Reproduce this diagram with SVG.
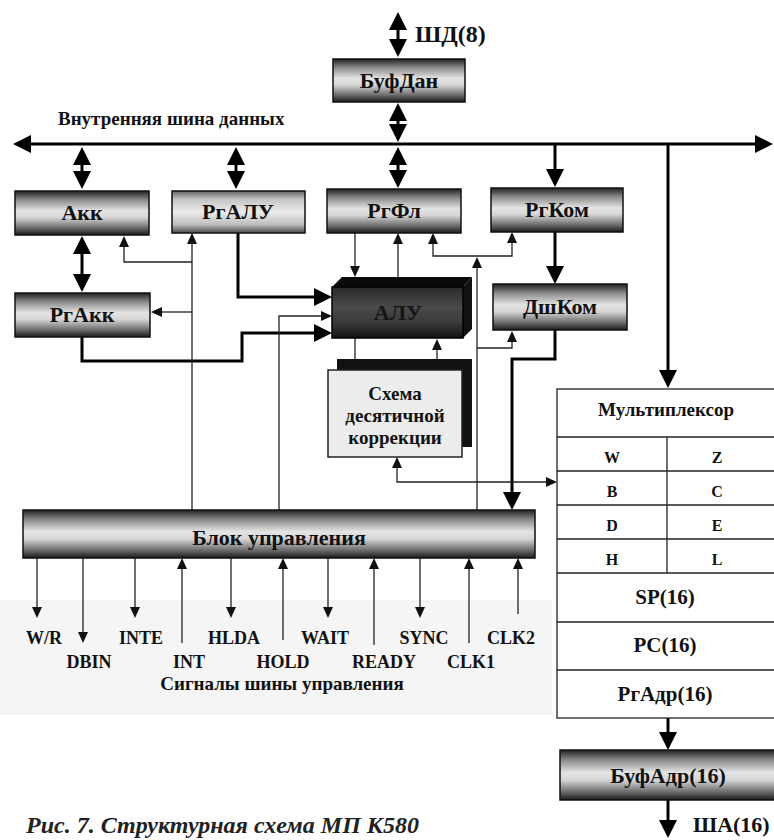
<svg xmlns="http://www.w3.org/2000/svg" width="774" height="840" viewBox="0 0 774 840">
<style>
.thick{stroke:#000;stroke-width:3;fill:none}
.thin{stroke:#222;stroke-width:1.3;fill:none}
.box{stroke:#111;stroke-width:1.5}
.lbl{font-family:"Liberation Serif","DejaVu Serif",serif;font-weight:bold;fill:#111;text-anchor:middle}
.sig{font-family:"Liberation Serif","DejaVu Serif",serif;font-weight:bold;fill:#111;font-size:18px;text-anchor:middle}
.cell{stroke:#222;stroke-width:1.3;fill:none}
</style>
<defs>
<linearGradient id="chrome" x1="0" y1="0" x2="0" y2="1">
<stop offset="0" stop-color="#222"/>
<stop offset="0.2" stop-color="#8a8a8a"/>
<stop offset="0.45" stop-color="#e4e4e4"/>
<stop offset="0.6" stop-color="#d6d6d6"/>
<stop offset="0.85" stop-color="#666"/>
<stop offset="1" stop-color="#1a1a1a"/>
</linearGradient>
<linearGradient id="light" x1="0" y1="0" x2="0" y2="1">
<stop offset="0" stop-color="#666"/>
<stop offset="0.2" stop-color="#c4c4c4"/>
<stop offset="0.5" stop-color="#ececec"/>
<stop offset="0.8" stop-color="#bdbdbd"/>
<stop offset="1" stop-color="#4a4a4a"/>
</linearGradient>
<linearGradient id="dark" x1="0" y1="0" x2="0" y2="1">
<stop offset="0" stop-color="#2a2a2a"/>
<stop offset="0.4" stop-color="#4a4a4a"/>
<stop offset="0.7" stop-color="#3a3a3a"/>
<stop offset="1" stop-color="#111"/>
</linearGradient>
<path id="hd" d="M0,0 L-9,-18 L9,-18 Z" fill="#000"/>
<path id="td" d="M0,0 L-5,-11 L5,-11 Z" fill="#111"/>
</defs>
<rect x="0" y="0" width="774" height="840" fill="#fff"/>
<rect x="0" y="600" width="552" height="115" fill="#f5f5f5"/>

<g id="connectors">
<line class="thick" x1="398" y1="25" x2="398" y2="45"/>
<use href="#hd" transform="translate(398,12) rotate(180)"/>
<use href="#hd" transform="translate(398,57)"/>
<line class="thick" x1="398" y1="115" x2="398" y2="130"/>
<use href="#hd" transform="translate(398,103) rotate(180)"/>
<use href="#hd" transform="translate(398,142)"/>
<line class="thick" x1="30" y1="144" x2="756" y2="144"/>
<use href="#hd" transform="translate(13,144) rotate(90)"/>
<use href="#hd" transform="translate(773,144) rotate(-90)"/>
<line class="thick" x1="82" y1="160" x2="82" y2="175"/>
<use href="#hd" transform="translate(82,147) rotate(180)"/>
<use href="#hd" transform="translate(82,189)"/>
<line class="thick" x1="236" y1="160" x2="236" y2="175"/>
<use href="#hd" transform="translate(236,147) rotate(180)"/>
<use href="#hd" transform="translate(236,189)"/>
<line class="thick" x1="398" y1="160" x2="398" y2="175"/>
<use href="#hd" transform="translate(398,147) rotate(180)"/>
<use href="#hd" transform="translate(398,188)"/>
<line class="thick" x1="555" y1="144" x2="555" y2="172"/>
<use href="#hd" transform="translate(555,187)"/>
<line class="thick" x1="668" y1="144" x2="668" y2="372"/>
<use href="#hd" transform="translate(668,388)"/>
<line class="thick" x1="82" y1="250" x2="82" y2="278"/>
<use href="#hd" transform="translate(82,236) rotate(180)"/>
<use href="#hd" transform="translate(82,292)"/>
<path class="thick" d="M238,233 V297 H316"/>
<use href="#hd" transform="translate(332,297) rotate(-90)"/>
<path class="thick" d="M82,337 V361 H242 V333 H316"/>
<use href="#hd" transform="translate(332,333) rotate(-90)"/>
<path class="thin" d="M279,510 V316 H322"/>
<use href="#td" transform="translate(332,316) rotate(-90)"/>
<path class="thin" d="M192,510 V243"/>
<use href="#td" transform="translate(192,233) rotate(180)"/>
<path class="thin" d="M192,262 H124 V246"/>
<use href="#td" transform="translate(124,236) rotate(180)"/>
<path class="thin" d="M192,312 H162"/>
<use href="#td" transform="translate(151,312) rotate(90)"/>
<line class="thin" x1="355" y1="233" x2="355" y2="267"/>
<use href="#td" transform="translate(355,277)"/>
<line class="thin" x1="398" y1="277" x2="398" y2="243"/>
<use href="#td" transform="translate(398,233) rotate(180)"/>
<path class="thin" d="M433,243 V256 H512 V243"/>
<use href="#td" transform="translate(433,233) rotate(180)"/>
<use href="#td" transform="translate(512,232) rotate(180)"/>
<line class="thin" x1="477" y1="510" x2="477" y2="268"/>
<use href="#td" transform="translate(477,257) rotate(180)"/>
<path class="thin" d="M477,348 H512 V341"/>
<use href="#td" transform="translate(512,331) rotate(180)"/>
<line class="thick" x1="555" y1="232" x2="555" y2="267"/>
<use href="#hd" transform="translate(555,284)"/>
<path class="thick" d="M555,330 V359 H512 V494"/>
<use href="#hd" transform="translate(512,510)"/>
<line class="thin" x1="355" y1="338" x2="355" y2="359"/>
<line class="thin" x1="437" y1="359" x2="437" y2="349"/>
<use href="#td" transform="translate(437,339) rotate(180)"/>
<path class="thin" d="M397,467 V482 H547"/>
<use href="#td" transform="translate(397,457) rotate(180)"/>
<use href="#td" transform="translate(557,482) rotate(-90)"/>
<line class="thick" x1="668" y1="718" x2="668" y2="734"/>
<use href="#hd" transform="translate(668,750)"/>
<line class="thick" x1="668" y1="800" x2="668" y2="822"/>
<use href="#hd" transform="translate(668,838)"/>
<line class="thin" x1="37" y1="558" x2="37" y2="608"/>
<use href="#td" transform="translate(37,618)"/>
<line class="thin" x1="83" y1="558" x2="83" y2="633"/>
<use href="#td" transform="translate(83,643)"/>
<line class="thin" x1="135" y1="558" x2="135" y2="608"/>
<use href="#td" transform="translate(135,618)"/>
<line class="thin" x1="182" y1="643" x2="182" y2="568"/>
<use href="#td" transform="translate(182,558) rotate(180)"/>
<line class="thin" x1="231" y1="558" x2="231" y2="608"/>
<use href="#td" transform="translate(231,618)"/>
<line class="thin" x1="283" y1="640" x2="283" y2="568"/>
<use href="#td" transform="translate(283,558) rotate(180)"/>
<line class="thin" x1="328" y1="558" x2="328" y2="608"/>
<use href="#td" transform="translate(328,618)"/>
<line class="thin" x1="374" y1="645" x2="374" y2="568"/>
<use href="#td" transform="translate(374,558) rotate(180)"/>
<line class="thin" x1="420" y1="558" x2="420" y2="608"/>
<use href="#td" transform="translate(420,618)"/>
<line class="thin" x1="469" y1="643" x2="469" y2="568"/>
<use href="#td" transform="translate(469,558) rotate(180)"/>
<line class="thin" x1="518" y1="614" x2="518" y2="568"/>
<use href="#td" transform="translate(518,558) rotate(180)"/>
</g>

<text class="lbl" x="415" y="42" font-size="24" style="text-anchor:start">ШД(8)</text>
<text class="lbl" x="58" y="125" font-size="19" style="text-anchor:start">Внутренняя шина данных</text>

<g id="bufdan">
<rect class="box" x="333" y="59" width="132" height="43" fill="url(#chrome)"/>
<text class="lbl" x="399" y="88" font-size="22">БуфДан</text>
</g>
<g id="akk">
<rect class="box" x="15" y="191" width="134" height="44" fill="url(#chrome)"/>
<text class="lbl" x="82" y="220" font-size="22">Акк</text>
</g>
<g id="rgalu">
<rect class="box" x="172" y="191" width="133" height="42" fill="url(#light)"/>
<text class="lbl" x="238" y="219" font-size="22">РгАЛУ</text>
</g>
<g id="rgfl">
<rect class="box" x="327" y="189" width="134" height="44" fill="url(#chrome)"/>
<text class="lbl" x="394" y="218" font-size="22">РгФл</text>
</g>
<g id="rgkom">
<rect class="box" x="491" y="188" width="132" height="44" fill="url(#chrome)"/>
<text class="lbl" x="557" y="217" font-size="22">РгКом</text>
</g>
<g id="rgakk">
<rect class="box" x="15" y="293" width="135" height="44" fill="url(#chrome)"/>
<text class="lbl" x="82" y="322" font-size="22">РгАкк</text>
</g>
<g id="dshkom">
<rect class="box" x="493" y="284" width="134" height="46" fill="url(#chrome)"/>
<text class="lbl" x="560" y="314" font-size="22">ДшКом</text>
</g>
<g id="alu">
<polygon points="332,287 342,277 472,277 463,287" fill="#0a0a0a"/>
<polygon points="463,287 472,277 472,329 463,338" fill="#111"/>
<rect x="332" y="287" width="131" height="51" fill="url(#dark)" stroke="#000" stroke-width="1.5"/>
<text class="lbl" x="398" y="320" font-size="22" style="fill:#151515">АЛУ</text>
</g>
<g id="korr">
<rect x="337" y="359" width="135" height="88" fill="#111"/>
<rect x="328" y="370" width="134" height="87" fill="#ececec" stroke="#222" stroke-width="1.5"/>
<text class="lbl" x="395" y="400" font-size="19">Схема</text>
<text class="lbl" x="395" y="422" font-size="19">десятичной</text>
<text class="lbl" x="395" y="444" font-size="19">коррекции</text>
</g>
<g id="blok">
<rect class="box" x="23" y="510" width="512" height="48" fill="url(#chrome)"/>
<text class="lbl" x="279" y="545" font-size="22">Блок управления</text>
</g>
<g id="mux">
<rect x="557" y="389" width="225" height="329" fill="#fff" stroke="#222" stroke-width="1.3"/>
<line class="cell" x1="557" y1="437" x2="774" y2="437"/>
<line class="cell" x1="557" y1="471" x2="774" y2="471"/>
<line class="cell" x1="557" y1="505" x2="774" y2="505"/>
<line class="cell" x1="557" y1="539" x2="774" y2="539"/>
<line class="cell" x1="557" y1="573" x2="774" y2="573"/>
<line class="cell" x1="557" y1="622" x2="774" y2="622"/>
<line class="cell" x1="557" y1="670" x2="774" y2="670"/>
<line class="cell" x1="667" y1="437" x2="667" y2="573"/>
<text class="lbl" x="666" y="416" font-size="19">Мультиплексор</text>
<text class="lbl" x="612" y="463" font-size="16">W</text>
<text class="lbl" x="717" y="463" font-size="16">Z</text>
<text class="lbl" x="612" y="497" font-size="16">B</text>
<text class="lbl" x="717" y="497" font-size="16">C</text>
<text class="lbl" x="612" y="531" font-size="16">D</text>
<text class="lbl" x="717" y="531" font-size="16">E</text>
<text class="lbl" x="612" y="565" font-size="16">H</text>
<text class="lbl" x="717" y="565" font-size="16">L</text>
<text class="lbl" x="665" y="604" font-size="21">SP(16)</text>
<text class="lbl" x="665" y="652" font-size="21">PC(16)</text>
<text class="lbl" x="665" y="701" font-size="21">РгАдр(16)</text>
</g>
<g id="bufadr">
<rect class="box" x="560" y="750" width="222" height="50" fill="url(#chrome)"/>
<text class="lbl" x="668" y="783" font-size="22">БуфАдр(16)</text>
</g>
<text class="lbl" x="693" y="832" font-size="22" style="text-anchor:start">ША(16)</text>

<g id="signals">
<text class="sig" x="44" y="644">W/R</text>
<text class="sig" x="141" y="644">INTE</text>
<text class="sig" x="234" y="644">HLDA</text>
<text class="sig" x="325" y="644">WAIT</text>
<text class="sig" x="424" y="644">SYNC</text>
<text class="sig" x="511" y="644">CLK2</text>
<text class="sig" x="89" y="668">DBIN</text>
<text class="sig" x="189" y="668">INT</text>
<text class="sig" x="283" y="668">HOLD</text>
<text class="sig" x="384" y="668">READY</text>
<text class="sig" x="471" y="668">CLK1</text>
<text class="sig" x="282" y="690" style="font-size:19px">Сигналы шины управления</text>
</g>
<text x="26" y="833" font-family="Liberation Serif, serif" font-style="italic" font-weight="bold" font-size="24" fill="#222">Рис. 7. Структурная схема МП К580</text>
</svg>
